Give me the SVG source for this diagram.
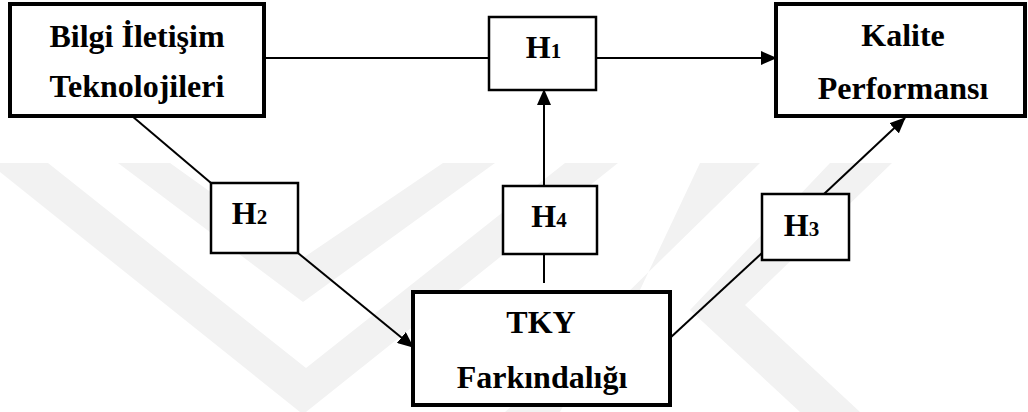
<svg xmlns="http://www.w3.org/2000/svg" width="1028" height="412" viewBox="0 0 1028 412">
  <style>
    .node { fill: #ffffff; stroke: #000000; stroke-width: 4; }
    .hyp { fill: #ffffff; stroke: #000000; stroke-width: 2.5; }
    .lbl { font-family: "Liberation Serif", "Times New Roman", serif; font-weight: bold; font-size: 32px; fill: #000000; text-anchor: middle; }
    .sub { font-size: 21px; }
    .edge { fill: none; stroke: #000000; stroke-width: 2; }
    .mark { fill: #f2f2f2; stroke: none; }
  </style>
  <defs>
    <marker id="arrow" markerUnits="userSpaceOnUse" markerWidth="16" markerHeight="14" refX="15" refY="7" orient="auto">
      <path d="M0,0 L16,7 L0,14 z" fill="#000000"/>
    </marker>
  </defs>

  <rect width="1028" height="412" fill="#ffffff"/>

  <!-- faint background emblem -->
  <g id="emblem">
    <polygon class="mark" points="0,163 48,163 306,368 565,163 618,163 306,412 300,412 0,172"/>
    <polygon class="mark" points="118,163 170,163 303,258 443,163 495,163 303,302"/>
    <polygon class="mark" points="700,163 760,163 620,300 560,412 505,412 640,290"/>
    <polygon class="mark" points="830,163 892,163 745,305 860,412 800,412 690,310"/>
  </g>

  <!-- connectors -->
  <g id="connectors">
    <line class="edge" x1="264" y1="58" x2="489" y2="58"/>
    <line class="edge" x1="596" y1="58" x2="776" y2="58" marker-end="url(#arrow)"/>
    <line class="edge" x1="132" y1="116" x2="211" y2="183"/>
    <line class="edge" x1="298" y1="253" x2="413" y2="347" marker-end="url(#arrow)"/>
    <line class="edge" x1="670" y1="338" x2="762" y2="253"/>
    <line class="edge" x1="824" y1="194" x2="905" y2="118" marker-end="url(#arrow)"/>
    <line class="edge" x1="544" y1="283" x2="544" y2="254"/>
    <line class="edge" x1="544" y1="186" x2="544" y2="90" marker-end="url(#arrow)"/>
  </g>

  <!-- main constructs -->
  <g id="bit">
    <rect class="node" x="10" y="4" width="254" height="112"/>
    <text class="lbl" x="137" y="47">Bilgi İletişim</text>
    <text class="lbl" x="137" y="97">Teknolojileri</text>
  </g>
  <g id="kalite">
    <rect class="node" x="776" y="4" width="249" height="112"/>
    <text class="lbl" x="903" y="46">Kalite</text>
    <text class="lbl" x="903" y="99">Performansı</text>
  </g>
  <g id="tky">
    <rect class="node" x="413" y="292" width="257" height="113"/>
    <text class="lbl" x="541" y="333">TKY</text>
    <text class="lbl" x="542" y="388">Farkındalığı</text>
  </g>

  <!-- hypothesis boxes -->
  <g id="h1">
    <rect class="hyp" x="489" y="17" width="107" height="73"/>
    <text class="lbl" x="543.5" y="58">H<tspan class="sub">1</tspan></text>
  </g>
  <g id="h2">
    <rect class="hyp" x="211" y="183" width="87" height="70"/>
    <text class="lbl" x="249.5" y="224">H<tspan class="sub">2</tspan></text>
  </g>
  <g id="h3">
    <rect class="hyp" x="762" y="194" width="87" height="66"/>
    <text class="lbl" x="801.5" y="236">H<tspan class="sub">3</tspan></text>
  </g>
  <g id="h4">
    <rect class="hyp" x="503" y="186" width="94" height="68"/>
    <text class="lbl" x="549" y="227">H<tspan class="sub">4</tspan></text>
  </g>
</svg>
